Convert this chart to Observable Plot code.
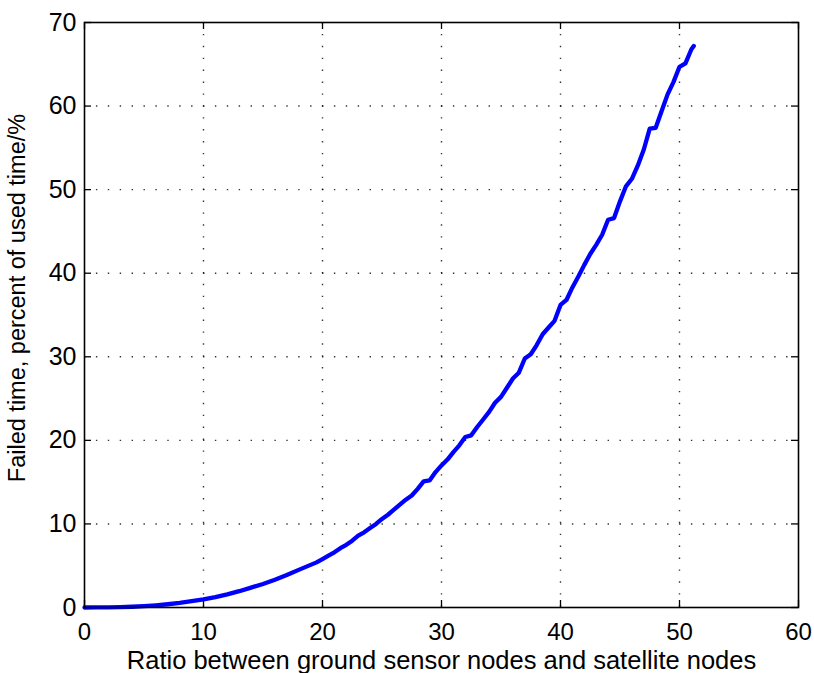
<!DOCTYPE html>
<html>
<head>
<meta charset="utf-8">
<script src="https://cdn.jsdelivr.net/npm/d3@7"></script>
<script src="https://cdn.jsdelivr.net/npm/@observablehq/plot@0.6"></script>
<style>
  html, body { margin: 0; padding: 0; background: #fff; }
  #chart { width: 814px; height: 673px; }
</style>
</head>
<body>
<div id="chart"></div>
<script>
// Ratio between ground sensor nodes and satellite nodes
const ratio = [
  0, 1, 2, 3, 4, 5, 6, 7, 8, 9, 10, 11, 12, 13, 14, 15, 16, 17, 18, 19,
  19.5, 20, 20.5, 21, 21.5, 22, 22.5, 23, 23.5, 24, 24.5, 25, 25.5, 26, 26.5, 27, 27.5, 28, 28.5, 29, 29.5,
  30, 30.5, 31, 31.5, 32, 32.5, 33, 33.5, 34, 34.5, 35, 35.5, 36, 36.5, 37, 37.5, 38, 38.5, 39, 39.5,
  40, 40.5, 41, 41.5, 42, 42.5, 43, 43.5, 44, 44.5, 45, 45.5, 46, 46.5, 47, 47.5, 48, 48.5, 49, 49.5,
  50, 50.5, 51, 51.2
];
// Failed time, percent of used time (%)
const failedPct = [
  0, 0.01, 0.02, 0.04, 0.09, 0.16, 0.26, 0.39, 0.55, 0.75, 0.98, 1.25, 1.58, 1.95, 2.38, 2.82, 3.32, 3.88, 4.5, 5.1,
  5.4, 5.8, 6.2, 6.6, 7.1, 7.5, 8.0, 8.6, 9.0, 9.5, 10.0, 10.6, 11.1, 11.7, 12.3, 12.9, 13.4, 14.2, 15.1, 15.2, 16.2,
  17.0, 17.7, 18.6, 19.4, 20.4, 20.6, 21.6, 22.5, 23.4, 24.5, 25.2, 26.3, 27.4, 28.1, 29.8, 30.3, 31.4, 32.7, 33.5, 34.3,
  36.2, 36.8, 38.3, 39.6, 41.0, 42.3, 43.4, 44.6, 46.4, 46.6, 48.6, 50.4, 51.3, 52.9, 54.8, 57.3, 57.4, 59.4, 61.4, 62.9,
  64.7, 65.1, 66.8, 67.2
];
const xTicks = [0, 10, 20, 30, 40, 50, 60];
const yTicks = [0, 10, 20, 30, 40, 50, 60, 70];
const xLabel = "Ratio between ground sensor nodes and satellite nodes";
const yLabel = "Failed time, percent of used time/%";

const data = ratio.map((r, i) => ({r, v: failedPct[i]}));

const W = 814, H = 673;
const mL = 84, mR = 16, mT = 22, mB = 66;
const xDom = [0, 60], yDom = [0, 70];
const pw = W - mL - mR, ph = H - mT - mB;
const tickPx = 7;
const tY = (yDom[1] - yDom[0]) * tickPx / ph; // tick length in y units
const tX = (xDom[1] - xDom[0]) * tickPx / pw; // tick length in x units
const innerX = xTicks.slice(1, -1), innerY = yTicks.slice(1, -1);
const FS = 24;

const chart = Plot.plot({
  width: W, height: H,
  marginLeft: mL, marginRight: mR, marginTop: mT, marginBottom: mB,
  style: {fontFamily: "'Liberation Sans', Arial, Helvetica, sans-serif", fontSize: FS + "px", background: "#fff", color: "#000"},
  x: {domain: xDom},
  y: {domain: yDom},
  marks: [
    Plot.gridX(innerX, {stroke: "#000", strokeOpacity: 0.8, strokeWidth: 1.4, strokeDasharray: "1.4,10.5"}),
    Plot.gridY(innerY, {stroke: "#000", strokeOpacity: 0.8, strokeWidth: 1.4, strokeDasharray: "1.4,10.5"}),
    // inward ticks on all four sides
    Plot.ruleX(xTicks, {x: d => d, y1: yDom[0], y2: yDom[0] + tY, stroke: "#000", strokeWidth: 1.3}),
    Plot.ruleX(xTicks, {x: d => d, y1: yDom[1], y2: yDom[1] - tY, stroke: "#000", strokeWidth: 1.3}),
    Plot.ruleY(yTicks, {y: d => d, x1: xDom[0], x2: xDom[0] + tX, stroke: "#000", strokeWidth: 1.3}),
    Plot.ruleY(yTicks, {y: d => d, x1: xDom[1], x2: xDom[1] - tX, stroke: "#000", strokeWidth: 1.3}),
    Plot.line(data, {x: "r", y: "v", stroke: "#0000ff", strokeWidth: 4.3, curve: "linear"}),
    Plot.frame({stroke: "#000", strokeWidth: 1.6}),
    Plot.axisX(xTicks, {tickSize: 0, tickPadding: 15, fontSize: FS, label: null}),
    Plot.axisY(yTicks, {tickSize: 0, tickPadding: 8, fontSize: FS + 1, label: null}),
    Plot.text([xLabel], {frameAnchor: "bottom", dy: 53, fontSize: 25.5, lineAnchor: "middle", textAnchor: "middle", text: d => d}),
    Plot.text([yLabel], {frameAnchor: "left", dx: -67, dy: -17, rotate: -90, fontSize: 23.5, lineAnchor: "middle", textAnchor: "middle", text: d => d})
  ]
});
document.getElementById("chart").appendChild(chart);
</script>
</body>
</html>
